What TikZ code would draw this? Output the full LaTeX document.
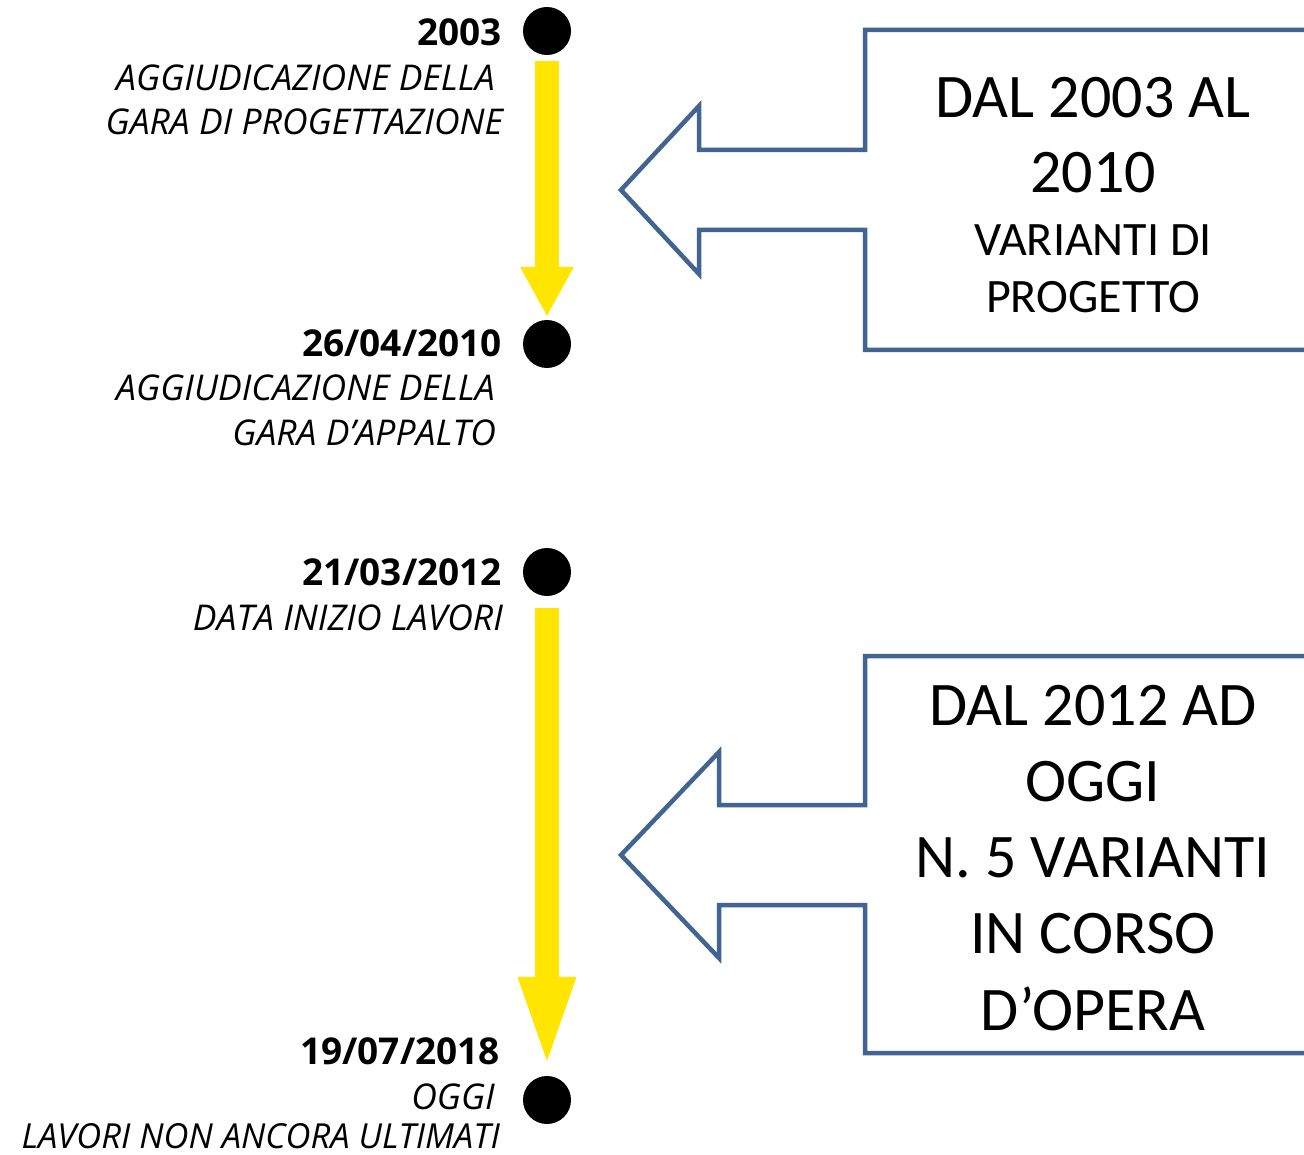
\documentclass[tikz,border=0pt]{standalone}
\usepackage{fontspec}
\setmainfont{Carlito}
\newfontfamily\labfont{Open Sans}
\usetikzlibrary{arrows.meta}
\definecolor{calloutblue}{RGB}{65,100,145}
\definecolor{tlyellow}{RGB}{255,229,0}
\begin{document}
\begin{tikzpicture}[x=1pt,y=-1pt,
  dot/.style={circle,fill=black,inner sep=0pt,minimum size=48pt},
  tlarrow/.style={draw=tlyellow,line width=24pt,-{Triangle[length=50pt,width=50pt]}},
  datelab/.style={anchor=base east,inner sep=0pt,font=\labfont\bfseries\fontsize{37}{44}\selectfont},
  desclab/.style={anchor=base east,inner sep=0pt,font=\labfont\itshape\fontsize{35.5}{44}\selectfont},
  callout/.style={draw=calloutblue,line width=4.5pt,miter limit=10},
  bigtxt/.style={anchor=base,inner sep=0pt,font=\fontsize{62}{75}\selectfont},
  midtxt/.style={anchor=base,inner sep=0pt,font=\fontsize{48}{57}\selectfont}
]
\useasboundingbox (0,0) rectangle (1304,1155);
\clip (0,0) rectangle (1304,1155);
\fill[white] (0,0) rectangle (1304,1155);

% timeline dots
\node[dot] (d1) at (547,31) {};
\node[dot] (d2) at (547,344) {};
\node[dot] (d3) at (547,572) {};
\node[dot] (d4) at (547,1100) {};

% yellow arrows
\draw[tlarrow,shorten <=6pt,shorten >=3pt] (d1) -- (d2);
\draw[tlarrow,-{Triangle[length=95pt,width=50pt]},shorten <=12pt,shorten >=4pt] (d3) -- (d4);

% labels
\node[datelab] (l1a) at (502,46) {2003};
\node[desclab] (l1b) at (495,91) {AGGIUDICAZIONE DELLA};
\node[desclab] (l1c) at (503,135) {GARA DI PROGETTAZIONE};

\node[datelab] (l2a) at (502,357) {26/04/2010};
\node[desclab] (l2b) at (495,401) {AGGIUDICAZIONE DELLA};
\node[desclab] (l2c) at (496,446) {GARA D’APPALTO};

\node[datelab] (l3a) at (502,585) {21/03/2012};
\node[desclab] (l3b) at (503,630) {DATA INIZIO LAVORI};

\node[datelab] (l4a) at (500,1064) {19/07/2018};
\node[desclab] (l4b) at (495,1109) {OGGI};
\node[desclab,text depth=0pt,font=\labfont\itshape\fontsize{34.5}{44}\selectfont] (l4c) at (500,1148) {LAVORI NON ANCORA ULTIMATI};

% callouts
\draw[callout] (1330,30) -- (865,30) -- (865,150) -- (699,150) -- (699,106)
  -- (621,190) -- (699,274) -- (699,230) -- (865,230) -- (865,350) -- (1330,350);
\draw[callout] (1330,656) -- (865,656) -- (865,805) -- (719,805) -- (719,752)
  -- (621,855) -- (719,958) -- (719,905) -- (865,905) -- (865,1053) -- (1330,1053);

% callout texts
\node[bigtxt] (c1a) at (1093,118) {DAL 2003 AL};
\node[bigtxt] (c1b) at (1093,193) {2010};
\node[midtxt] (c1c) at (1093,256) {VARIANTI DI};
\node[midtxt] (c1d) at (1093,313) {PROGETTO};

\node[bigtxt] (c2a) at (1093,725) {DAL 2012 AD};
\node[bigtxt] (c2b) at (1093,801) {OGGI};
\node[bigtxt] (c2c) at (1093,877) {N. 5 VARIANTI};
\node[bigtxt] (c2d) at (1093,953) {IN CORSO};
\node[bigtxt] (c2e) at (1093,1030) {D’OPERA};
\end{tikzpicture}
\end{document}
